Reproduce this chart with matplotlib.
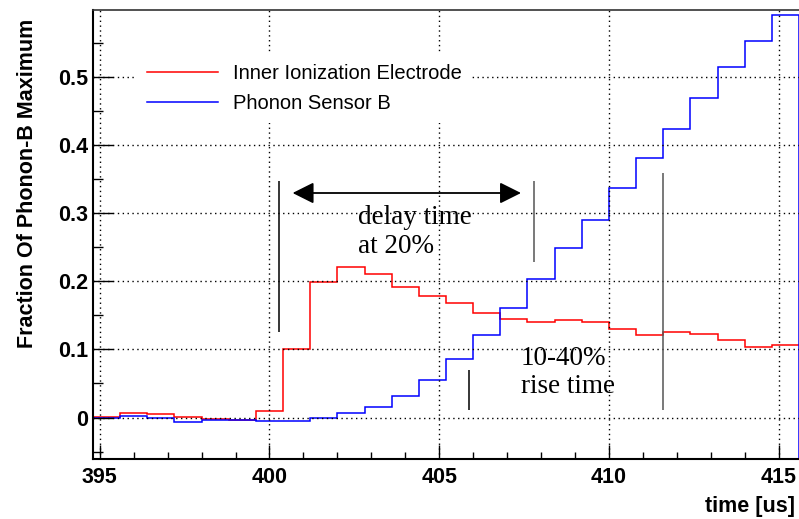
import numpy as np
import matplotlib.pyplot as plt
from matplotlib.ticker import MultipleLocator

# histogram binning: 26 bins of 0.8 us starting at 394.8 us
first_edge = 394.8
bin_width = 0.8
edges = first_edge + bin_width * np.arange(27)

# Inner ionization electrode (red)
electrode = [0.001, 0.006, 0.005, 0.001, -0.002, -0.004, 0.009, 0.101, 0.199, 0.221,
             0.211, 0.192, 0.178, 0.168, 0.154, 0.145, 0.141, 0.143, 0.141, 0.130,
             0.122, 0.125, 0.123, 0.114, 0.104, 0.106]

# Phonon sensor B (blue)
phonon = [0.000, 0.002, 0.000, -0.006, -0.004, -0.004, -0.005, -0.005, -0.001, 0.006,
          0.016, 0.032, 0.055, 0.086, 0.122, 0.161, 0.203, 0.249, 0.291, 0.337,
          0.381, 0.424, 0.469, 0.515, 0.554, 0.592]

# marker lines: (x, y_low, y_high, colour)
markers_x = [400.29, 407.8, 411.6, 405.89]
markers_lo = [0.126, 0.228, 0.011, 0.011]
markers_hi = [0.347, 0.347, 0.359, 0.070]
markers_col = ['black', '#555555', '#555555', 'black']

# delay-time arrow
arrow_x = (400.68, 407.41)
arrow_y = 0.33

xmin, xmax = 394.8, 415.6
ymin, ymax = -0.061, 0.599

fig = plt.figure(figsize=(7.99, 5.19), dpi=100)
ax = fig.add_axes([93 / 799, 60 / 519, 706 / 799, 449 / 519])

ax.stairs(electrode, edges, color='#ff0000', lw=1.1, baseline=None,
          label='Inner Ionization Electrode')
ax.stairs(phonon, edges, color='#0000ff', lw=1.1, baseline=ymin,
          label='Phonon Sensor B')

ax.set_xlim(xmin, xmax)
ax.set_ylim(ymin, ymax)

# ROOT style axes
ax.xaxis.set_major_locator(MultipleLocator(5))
ax.xaxis.set_minor_locator(MultipleLocator(1))
ax.yaxis.set_major_locator(MultipleLocator(0.1))
ax.yaxis.set_minor_locator(MultipleLocator(0.05))
ax.set_yticks([0, 0.1, 0.2, 0.3, 0.4, 0.5])
ax.set_yticklabels(['0', '0.1', '0.2', '0.3', '0.4', '0.5'])
ax.tick_params(axis='x', which='major', direction='in', length=10, width=1, pad=6)
ax.tick_params(axis='x', which='minor', direction='in', length=5, width=1)
ax.tick_params(axis='y', which='major', direction='in', length=14.4, width=1, pad=3.6)
ax.tick_params(axis='y', which='minor', direction='in', length=7.2, width=1)
ax.tick_params(top=False, right=False, which='both')
for lab in ax.get_xticklabels() + ax.get_yticklabels():
    lab.set_fontfamily('Liberation Sans')
    lab.set_fontweight('bold')
    lab.set_fontsize(15.5)

ax.grid(True, which='major', color='black', linestyle=(0, (1, 2.5)), lw=1)
ax.spines['left'].set_linewidth(1.5)
ax.spines['bottom'].set_linewidth(1.5)
ax.spines['top'].set_linewidth(1.2)
ax.spines['top'].set_color('#333333')
ax.spines['right'].set_visible(False)

# annotation lines
ax.vlines(markers_x, markers_lo, markers_hi, colors=markers_col, lw=1.1)
ax.annotate('', xy=(arrow_x[0], arrow_y), xytext=(arrow_x[1], arrow_y),
            arrowprops=dict(arrowstyle='<|-|>,head_length=1.3,head_width=0.65',
                            mutation_scale=10, color='black', lw=1.3,
                            shrinkA=0, shrinkB=0))

# multi-line text: baseline alignment uses the last line
ax.text(402.61, 0.2415, 'delay time\nat 20%', family='Liberation Serif',
        fontsize=19.5, ha='left', va='baseline', linespacing=1.2)
ax.text(407.41, 0.0356, '10-40%\nrise time', family='Liberation Serif',
        fontsize=19.5, ha='left', va='baseline', linespacing=1.15)

leg = ax.legend(loc='upper left', bbox_to_anchor=(0.0623, 0.902), borderaxespad=0,
                prop={'family': 'Liberation Sans', 'size': 14.5},
                handlelength=3.5, handletextpad=0.75, labelspacing=0.55,
                borderpad=0.5, frameon=True, fancybox=False)
leg.get_frame().set_edgecolor('none')
leg.get_frame().set_facecolor('white')
leg.get_frame().set_alpha(1)

fig.text(28 / 799, 1 - 183 / 519, 'Fraction Of Phonon-B Maximum', rotation=90,
         ha='center', va='center', family='Liberation Sans', fontweight='bold',
         fontsize=15.5)
fig.text(795 / 799, 1 - 506.7 / 519, 'time [us]', ha='right', va='center',
         family='Liberation Sans', fontweight='bold', fontsize=15.5)

fig.savefig('out.png', dpi=100)
